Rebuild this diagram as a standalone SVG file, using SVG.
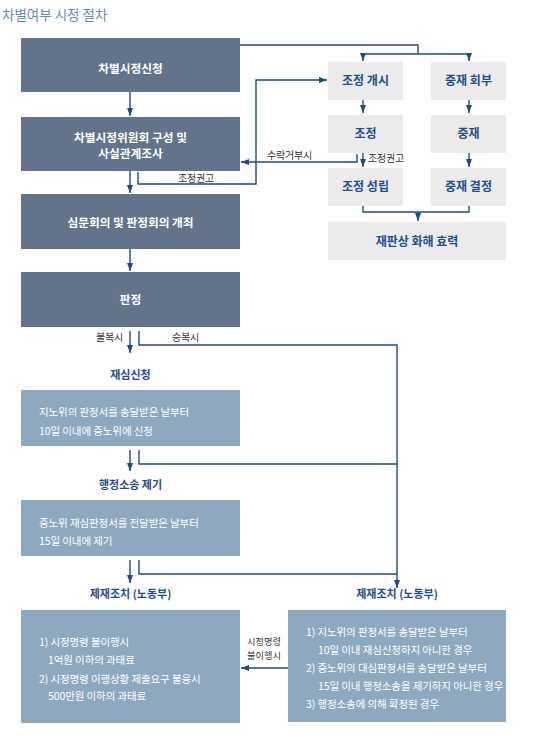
<svg xmlns="http://www.w3.org/2000/svg" width="545" height="745" viewBox="0 0 545 745">
<defs>
<style>
text{font-family:"Noto Sans CJK KR","Noto Sans",sans-serif}
.title{font-size:13.5px;fill:#5b8cc8}
.dark{fill:#63748a}
.light{fill:#8ea8c0}
.gray{fill:#ebebeb}
.wt{font-size:11.7px;font-weight:bold;fill:#ffffff;text-anchor:middle}
.bt{font-size:12px;font-weight:bold;fill:#1f4d8f;text-anchor:middle}
.bl{font-size:11px;font-weight:bold;fill:#1f4d8f;text-anchor:middle}
.lt{font-size:10.5px;fill:#ffffff;letter-spacing:-0.1px}
.sm{font-size:10px;fill:#333333;letter-spacing:-0.2px}
.sm2{font-size:9.2px;fill:#333333;text-anchor:middle}
.ln{fill:none;stroke:#1b4a8e;stroke-width:1.4}
</style>
<marker id="ah" markerUnits="userSpaceOnUse" markerWidth="8" markerHeight="8" viewBox="0 0 8 8" refX="8" refY="4" orient="auto">
<path d="M0,1 L8,4 L0,7 Z" fill="#1b4a8e"/>
</marker>
</defs>
<rect width="545" height="745" fill="#ffffff"/>
<text class="title" x="2" y="20">차별여부 시정 절차</text>

<g id="n1"><rect class="dark" x="21" y="38" width="219" height="54"/><text class="wt" x="130.5" y="72.5">차별시정신청</text></g>
<g id="n2"><rect class="dark" x="21" y="117" width="219" height="54"/><text class="wt" x="130.5" y="141.5">차별시정위원회 구성 및</text><text class="wt" x="130.5" y="158">사실관계조사</text></g>
<g id="n3"><rect class="dark" x="21" y="194" width="219" height="55"/><text class="wt" x="130.5" y="227">심문회의 및 판정회의 개최</text></g>
<g id="n4"><rect class="dark" x="21" y="272" width="219" height="55"/><text class="wt" x="130.5" y="304">판정</text></g>

<g id="g1"><rect class="gray" x="328" y="62" width="75" height="38"/><text class="bt" x="365.5" y="85">조정 개시</text></g>
<g id="g2"><rect class="gray" x="431" y="62" width="75" height="38"/><text class="bt" x="468.5" y="85">중재 회부</text></g>
<g id="g3"><rect class="gray" x="328" y="115" width="75" height="38"/><text class="bt" x="365.5" y="138">조정</text></g>
<g id="g4"><rect class="gray" x="431" y="115" width="75" height="38"/><text class="bt" x="468.5" y="138">중재</text></g>
<g id="g5"><rect class="gray" x="328" y="168" width="75" height="38"/><text class="bt" x="365.5" y="191">조정 성립</text></g>
<g id="g6"><rect class="gray" x="431" y="168" width="75" height="38"/><text class="bt" x="468.5" y="191">중재 결정</text></g>
<g id="g7"><rect class="gray" x="328" y="222" width="178" height="38"/><text class="bt" x="417" y="245.5">재판상 화해 효력</text></g>

<g id="n5"><text class="bl" x="130.5" y="379">재심신청</text><rect class="light" x="21" y="390" width="219" height="56"/><text class="lt" x="39" y="415.5">지노위의 판정서를 송달받은 날부터</text><text class="lt" x="39" y="434.5">10일 이내에  중노위에 신청</text></g>
<g id="n6"><text class="bl" x="130.5" y="489">행정소송 제기</text><rect class="light" x="21" y="500" width="219" height="56"/><text class="lt" x="39" y="527">중노위 재심판정서를 전달받은 날부터</text><text class="lt" x="39" y="544.5">15일 이내에 제기</text></g>
<g id="n7"><text class="bl" x="130.5" y="598">제재조치 (노동부)</text><rect class="light" x="21" y="610" width="219" height="113"/><text class="lt" x="39" y="646">1) 시정명령 불이행시</text><text class="lt" x="48" y="664">1억원 이하의 과태료</text><text class="lt" x="39" y="683">2) 시정명령 이행상황 제출요구 불응시</text><text class="lt" x="48" y="700">500만원 이하의 과태료</text></g>
<g id="n8"><text class="bl" x="397" y="598">제재조치 (노동부)</text><rect class="light" x="288" y="610" width="218" height="112"/><text class="lt" x="306" y="635.5">1) 지노위의 판정서를 송달받은 날부터</text><text class="lt" x="318" y="653.5">10일 이내 재심신청하지 아니한 경우</text><text class="lt" x="306" y="671.5">2) 중노위의 대심판정서를 송달받은 날부터</text><text class="lt" x="318" y="689.5">15일 이내 행정소송을 제기하지 아니한 경우</text><text class="lt" x="306" y="707.5">3) 행정소송에 의해 확정된 경우</text></g>

<g id="connectors">
<path class="ln" d="M130,92 V116" marker-end="url(#ah)"/>
<path class="ln" d="M130,171 V193" marker-end="url(#ah)"/>
<path class="ln" d="M130,249 V271" marker-end="url(#ah)"/>
<path class="ln" d="M130,331 V353" marker-end="url(#ah)"/>
<path class="ln" d="M130,450 V471" marker-end="url(#ah)"/>
<path class="ln" d="M130,560 V583" marker-end="url(#ah)"/>
<path class="ln" d="M139,331 V345 H397 V588" marker-end="url(#ah)"/>
<path class="ln" d="M139,450 V464 H397"/>
<path class="ln" d="M139,560 V574 H397"/>
<path class="ln" d="M288,668 H241" marker-end="url(#ah)"/>
<path class="ln" d="M240,45 H418 V54"/>
<path class="ln" d="M363,54 H469"/>
<path class="ln" d="M363,54 V61" marker-end="url(#ah)"/>
<path class="ln" d="M469,54 V61" marker-end="url(#ah)"/>
<path class="ln" d="M363,100 V113" marker-end="url(#ah)"/>
<path class="ln" d="M469,100 V113" marker-end="url(#ah)"/>
<path class="ln" d="M363,153 V167" marker-end="url(#ah)"/>
<path class="ln" d="M469,153 V167" marker-end="url(#ah)"/>
<path class="ln" d="M357,154 V162 H241" marker-end="url(#ah)"/>
<path class="ln" d="M138,172 V184 H256 V80 H327" marker-end="url(#ah)"/>
<path class="ln" d="M363,206 V212 H469 V206"/>
<path class="ln" d="M418,212 V221" marker-end="url(#ah)"/>
<text class="sm" x="267" y="158.5">수락거부시</text>
<text class="sm" x="368" y="161.5">조정권고</text>
<text class="sm" x="178" y="181.5">조정권고</text>
<text class="sm" x="96" y="341">불복시</text>
<text class="sm" x="172" y="341">승복시</text>
<text class="sm2" x="264" y="645">시정명령</text>
<text class="sm2" x="264" y="658.5">불이행시</text>
</g>
</svg>
